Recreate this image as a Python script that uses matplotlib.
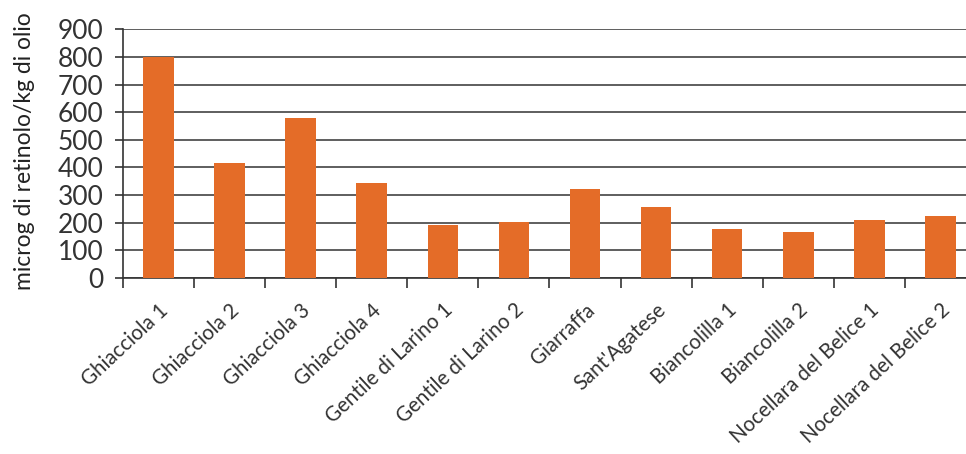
import matplotlib
matplotlib.use("Agg")
import matplotlib.pyplot as plt
import numpy as np

cultivars = [
    "Ghiacciola 1", "Ghiacciola 2", "Ghiacciola 3", "Ghiacciola 4",
    "Gentile di Larino 1", "Gentile di Larino 2", "Giarraffa", "Sant'Agatese",
    "Biancolilla 1", "Biancolilla 2", "Nocellara del Belice 1", "Nocellara del Belice 2",
]
retinolo = [800, 416, 579, 343, 191, 202, 320, 258, 178, 164, 209, 225]
yticks = [0, 100, 200, 300, 400, 500, 600, 700, 800, 900]

plt.rcParams["font.family"] = ["Lato", "DejaVu Sans"]
text_col = "#333333"

fig = plt.figure(figsize=(9.66, 4.54), dpi=100)
ax = fig.add_axes([0.1273, 0.3883, 0.883, 0.5471])

x = np.arange(len(cultivars))
ax.bar(x, retinolo, width=0.43, color="#E46C28", zorder=3)

ax.set_xlim(-0.5, len(cultivars) - 0.5)
ax.set_ylim(0, 900)
ax.set_yticks(yticks)
ax.yaxis.grid(True, color="#333333", linewidth=1.1, zorder=0)

for s in ["top", "right"]:
    ax.spines[s].set_visible(False)
ax.spines["left"].set_color(text_col)
ax.spines["bottom"].set_color(text_col)
ax.spines["left"].set_linewidth(1.2)
ax.spines["bottom"].set_linewidth(1.2)

ax.tick_params(axis="y", length=6, width=1.2, color=text_col, pad=8,
               labelsize=19, labelcolor=text_col)

# labels at category centres, ticks at the boundaries
ax.set_xticks(x)
ax.set_xticklabels(cultivars, rotation=43, ha="right", rotation_mode="anchor",
                   fontsize=14.8, color=text_col)
ax.tick_params(axis="x", which="major", length=0, pad=16)
ax.set_xticks(np.arange(len(cultivars) + 1) - 0.5, minor=True)
ax.tick_params(axis="x", which="minor", length=7, width=1.2, color=text_col)

fig.text(0.025, 0.972, "microg di retinolo/kg di olio", rotation=90,
         ha="center", va="top", fontsize=16.5, color="#222222")

fig.savefig("out.png", dpi=100)
